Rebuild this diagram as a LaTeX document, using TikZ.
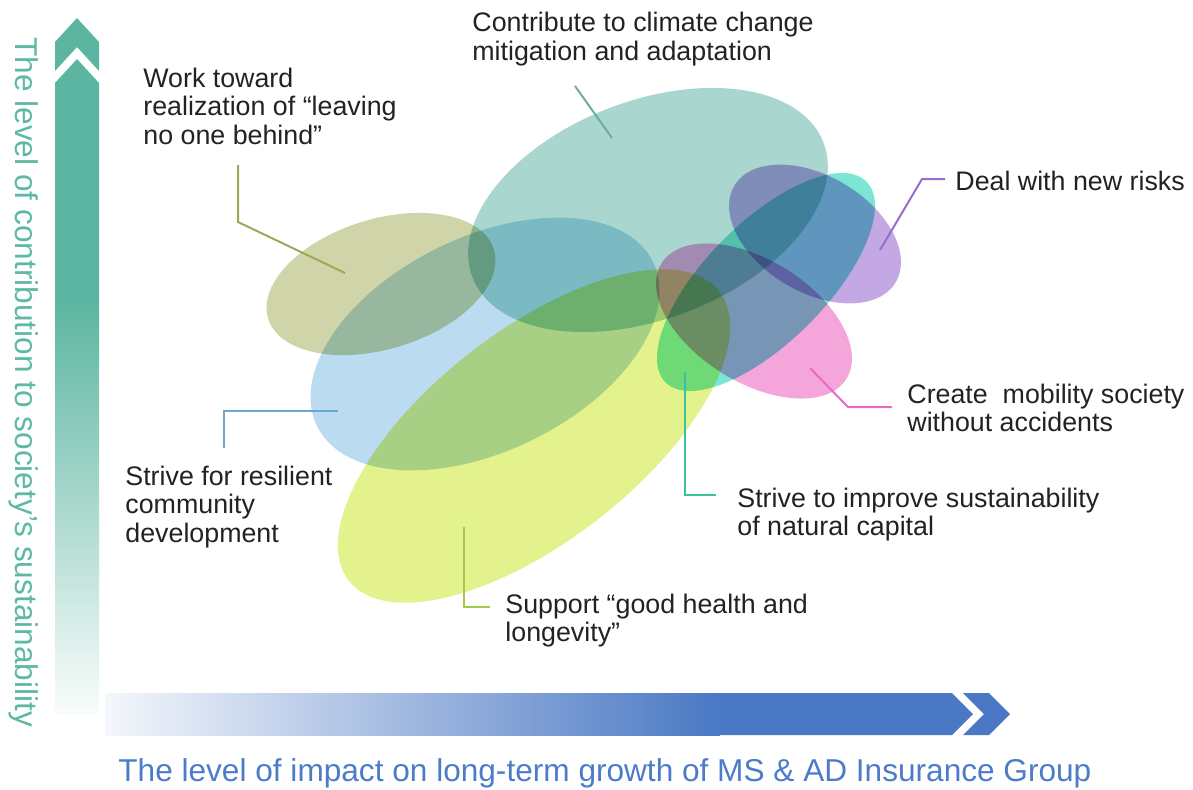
\documentclass[tikz,border=0pt]{standalone}
\usepackage{fontspec}
\setmainfont{Liberation Sans}
\definecolor{vteal}{HTML}{5BB5A0}
\definecolor{vtext}{HTML}{5DB9A3}
\definecolor{hblue}{HTML}{4A78C4}
\definecolor{htext}{HTML}{4C7CC8}
\definecolor{eolive}{HTML}{CFD5A8}
\definecolor{eblue}{HTML}{BBDCF0}
\definecolor{eteal}{HTML}{A9D7D0}
\definecolor{eyellow}{HTML}{E4F28E}
\definecolor{eturq}{HTML}{7DE5D4}
\definecolor{epurple}{HTML}{C4A8E4}
\definecolor{epink}{HTML}{F4A6DA}
\definecolor{lolive}{HTML}{A2A659}
\definecolor{lteal}{HTML}{6BAE9F}
\definecolor{lpurple}{HTML}{9A6CCB}
\definecolor{lpink}{HTML}{E66AC8}
\definecolor{lgreen}{HTML}{3CC0A0}
\definecolor{lblue}{HTML}{6AA9CF}
\definecolor{lyellow}{HTML}{A2CC48}
\definecolor{txt}{HTML}{222222}
\tikzset{
  blob/.style={fill=#1, blend mode=multiply},
  leader/.style={draw=#1, line width=1pt},
  lbl/.style={anchor=north west, inner sep=0pt, align=left, text=txt,
    font=\fontsize{13.4}{14.25}\selectfont},
  axislbl/.style={inner sep=0pt, font=\fontsize{15.8}{18}\selectfont}
}
\begin{document}
\begin{tikzpicture}[x=0.5pt,y=-0.5pt]
\useasboundingbox (0,0) rectangle (1193,789);

% vertical axis arrow
\fill[vteal] (77,18) -- (99,42) -- (99,71) -- (77,47) -- (55,71) -- (55,42) -- cycle;
\fill[vteal] (77,59) -- (99,83) -- (99,301) -- (55,301) -- (55,83) -- cycle;
\shade[top color=vteal, bottom color=vteal!4] (55,300) rectangle (99,713);
\node[axislbl, text=vtext, rotate=-90, anchor=base west] (vlabel) at (15,37)
  {The level of contribution to society's sustainability};

% horizontal axis arrow
\shade[left color=hblue!6, right color=hblue] (105,693) rectangle (720,735);
\fill[hblue] (719,693) -- (952,693) -- (973,714) -- (952,735) -- (719,735) -- cycle;
\fill[hblue] (963,693) -- (989,693) -- (1010,714) -- (989,735) -- (963,735) -- (984,714) -- cycle;
\node[axislbl, text=htext, anchor=base west] (hlabel) at (118,781)
  {The level of impact on long-term growth of MS \& AD Insurance Group};

% ellipses
\fill[blob=eteal, rotate around={21:(648,210)}] (648,210) ellipse [x radius=188, y radius=109];
\fill[blob=eolive, rotate around={17:(381,284)}] (381,284) ellipse [x radius=118, y radius=65];
\fill[blob=eblue, rotate around={26:(485,344)}] (485,344) ellipse [x radius=187, y radius=107];
\fill[blob=eyellow, rotate around={38:(534,436)}] (534,436) ellipse [x radius=235, y radius=105];
\fill[blob=eturq, rotate around={45:(766,282)}] (766,282) ellipse [x radius=142, y radius=60];
\fill[blob=epurple, rotate around={-31:(815,234)}] (815,234) ellipse [x radius=94, y radius=58];
\fill[blob=epink, rotate around={-32:(754,321)}] (754,321) ellipse [x radius=109, y radius=61];

% labels
\node[lbl] (work) at (143,67.5) {Work toward\\realization of “leaving\\no one behind”};
\node[lbl] (climate) at (472,12) {Contribute to climate change\\mitigation and adaptation};
\node[lbl] (risks) at (955,170.5) {Deal with new risks};
\node[lbl] (mobility) at (907,383.5) {Create\ \ mobility society\\without accidents};
\node[lbl] (natural) at (737,487.5) {Strive to improve sustainability\\of natural capital};
\node[lbl] (resilient) at (125,465.5) {Strive for resilient\\community\\development};
\node[lbl] (health) at (505,593.5) {Support “good health and\\longevity”};

% leader coordinates
\coordinate (o1) at (345,273); \coordinate (o2) at (238,222); \coordinate (o3) at (238,165);
\coordinate (t1) at (612,138); \coordinate (t2) at (575,86);
\coordinate (p1) at (880,250); \coordinate (p2) at (922,179); \coordinate (p3) at (945,179);
\coordinate (k1) at (810,368); \coordinate (k2) at (848,407); \coordinate (k3) at (892,407);
\coordinate (g1) at (685,372); \coordinate (g2) at (685,495); \coordinate (g3) at (716,495);
\coordinate (b1) at (338,411); \coordinate (b2) at (224,411); \coordinate (b3) at (224,448);
\coordinate (y1) at (464,527); \coordinate (y2) at (464,607); \coordinate (y3) at (490,607);

\draw[leader=lolive] (o1) -- (o2) -- (o3);
\draw[leader=lteal] (t1) -- (t2);
\draw[leader=lpurple] (p1) -- (p2) -- (p3);
\draw[leader=lpink] (k1) -- (k2) -- (k3);
\draw[leader=lgreen] (g1) -- (g2) -- (g3);
\draw[leader=lblue] (b1) -- (b2) -- (b3);
\draw[leader=lyellow] (y1) -- (y2) -- (y3);
\end{tikzpicture}
\end{document}
